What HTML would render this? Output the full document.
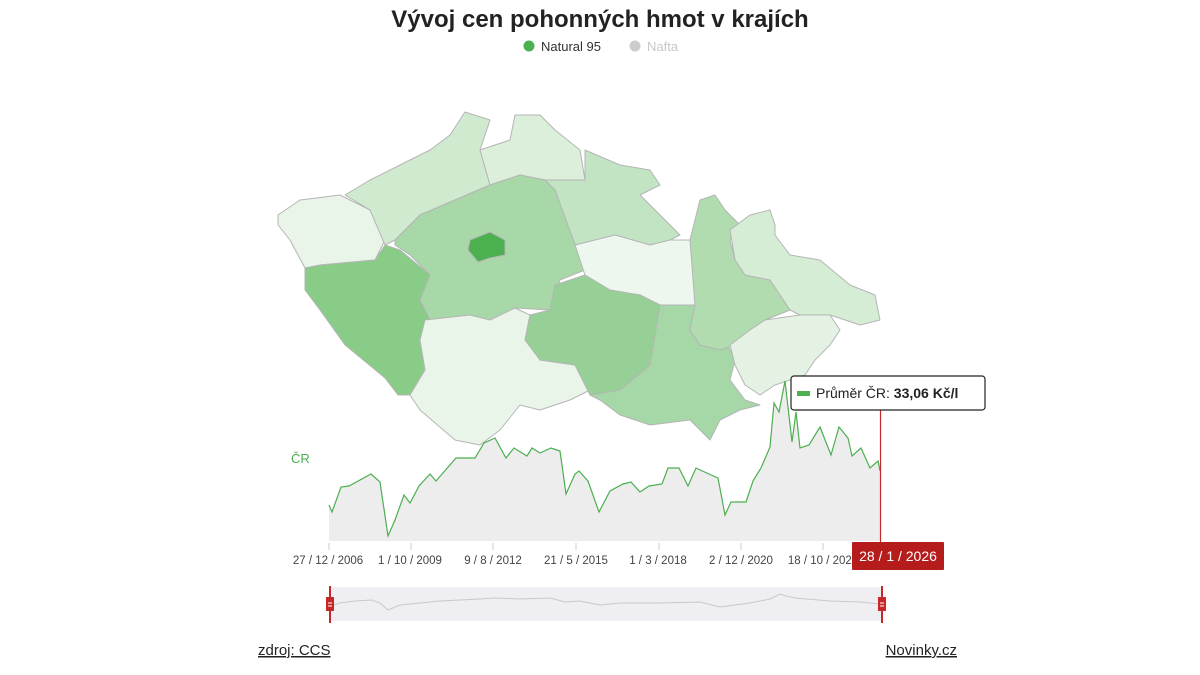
<!DOCTYPE html>
<html><head><meta charset="utf-8"><style>
html,body{margin:0;padding:0;background:#fff;width:1200px;height:675px;overflow:hidden;font-family:"Liberation Sans",sans-serif;}
</style></head><body>
<svg width="1200" height="675" viewBox="0 0 1200 675" xmlns="http://www.w3.org/2000/svg" font-family="Liberation Sans, sans-serif">
<text x="600" y="27" text-anchor="middle" font-size="24" font-weight="bold" fill="#222">Vývoj cen pohonných hmot v krajích</text>
<circle cx="529" cy="46" r="5.5" fill="#4caf50"/>
<text x="541" y="51" font-size="13" fill="#333">Natural 95</text>
<circle cx="635" cy="46" r="5.5" fill="#ccc"/>
<text x="647" y="51" font-size="13" fill="#c8c8c8">Nafta</text>
<g stroke="#b5b5b5" stroke-width="1" stroke-linejoin="round">
<polygon fill="#e9f5e9" points="278,215 300,200 340,195 370,210 385,240 375,260 320,265 305,268 290,240 278,225"/>
<polygon fill="#d0ead0" points="345,195 370,180 400,165 430,150 450,135 465,112 490,120 480,150 490,185 455,200 420,215 395,240 385,245 370,210"/>
<polygon fill="#dbefdb" points="480,150 510,140 515,115 540,115 555,130 580,150 585,180 555,185 545,180 520,175 490,185"/>
<polygon fill="#c2e4c2" points="545,180 585,180 585,150 620,165 650,170 660,185 640,195 660,215 680,235 670,240 650,245 615,235 575,245 555,190"/>
<polygon fill="#a8d8a8" points="395,240 420,215 455,200 490,185 520,175 545,180 555,190 575,245 585,270 560,280 550,310 515,308 490,320 470,315 430,320 420,300 430,275 410,255 395,245"/>
<polygon fill="#4caf50" points="470,240 490,232 505,240 505,255 490,258 478,262 468,250"/>
<polygon fill="#88cc88" points="305,268 320,265 375,260 385,245 400,250 430,275 420,300 430,320 420,340 425,370 410,395 398,395 385,378 345,345 320,310 305,290"/>
<polygon fill="#eaf5ea" points="425,320 470,315 490,320 515,308 530,315 525,340 540,360 575,365 590,390 570,400 540,410 520,405 500,430 480,445 455,440 420,410 410,395 425,370 420,340"/>
<polygon fill="#eef7ee" points="575,245 615,235 650,245 670,240 690,240 695,280 695,305 660,305 640,295 610,290 585,275"/>
<polygon fill="#96d096" points="555,285 585,275 610,290 640,295 660,305 655,340 650,365 620,390 590,395 575,365 540,360 525,340 530,315 550,310"/>
<polygon fill="#a6d7a6" points="590,395 620,390 650,365 660,305 695,305 690,330 700,345 725,340 735,360 730,380 745,400 760,405 740,410 720,420 710,440 690,420 650,425 620,415 600,400"/>
<polygon fill="#b0dcb0" points="700,200 715,195 725,210 740,225 730,240 735,260 745,275 770,280 790,310 765,320 750,330 735,345 720,350 700,345 690,330 695,305 690,240"/>
<polygon fill="#d5ecd5" points="730,230 750,215 770,210 775,225 775,235 790,255 820,260 850,285 875,295 880,320 860,325 830,315 800,315 790,310 770,280 745,275 735,260"/>
<polygon fill="#e3f2e3" points="730,345 750,330 765,320 800,315 830,315 840,330 830,345 815,360 805,375 790,380 775,385 760,395 745,385 735,365"/>
</g>
<text x="291" y="463" font-size="13" fill="#4caf50">ČR</text>
<polygon fill="#ebebeb" fill-opacity="0.9" points="329,541 329,505 332,512 341,487 349,486 371,474 380,482 388,536 395,520 404,495 410,503 419,486 430,474 436,481 456,458 475,458 484,443 495,438 506,458 514,448 527,456 532,448 540,453 551,448 560,451 566,494 575,474 579,471 588,481 599,512 610,491 623,484 631,482 640,492 649,486 662,484 668,468 679,468 688,486 696,468 709,474 718,478 725,515 731,502 746,502 753,481 761,468 770,447 774,403 779,412 785,381 792,442 796,412 800,448 809,445 820,427 831,455 839,427 848,438 852,456 861,448 870,468 878,461 880,471 880,541"/>
<polyline fill="none" stroke="#4caf50" stroke-width="1.2" points="329,505 332,512 341,487 349,486 371,474 380,482 388,536 395,520 404,495 410,503 419,486 430,474 436,481 456,458 475,458 484,443 495,438 506,458 514,448 527,456 532,448 540,453 551,448 560,451 566,494 575,474 579,471 588,481 599,512 610,491 623,484 631,482 640,492 649,486 662,484 668,468 679,468 688,486 696,468 709,474 718,478 725,515 731,502 746,502 753,481 761,468 770,447 774,403 779,412 785,381 792,442 796,412 800,448 809,445 820,427 831,455 839,427 848,438 852,456 861,448 870,468 878,461 880,471"/>
<g stroke="#ccc" stroke-width="1">
<line x1="329" y1="543" x2="329" y2="550"/><line x1="411" y1="543" x2="411" y2="550"/><line x1="493" y1="543" x2="493" y2="550"/><line x1="576" y1="543" x2="576" y2="550"/><line x1="659" y1="543" x2="659" y2="550"/><line x1="741" y1="543" x2="741" y2="550"/><line x1="823" y1="543" x2="823" y2="550"/>
</g>
<g font-size="11.5" fill="#444" text-anchor="middle">
<text x="328" y="564">27 / 12 / 2006</text><text x="410" y="564">1 / 10 / 2009</text><text x="493" y="564">9 / 8 / 2012</text><text x="576" y="564">21 / 5 / 2015</text><text x="658" y="564">1 / 3 / 2018</text><text x="741" y="564">2 / 12 / 2020</text><text x="823" y="564">18 / 10 / 2023</text>
</g>
<line x1="880.5" y1="408" x2="880.5" y2="543" stroke="#c62828" stroke-width="1.2"/>
<rect x="852" y="542" width="92" height="28" fill="#b71c1c" rx="1"/>
<text x="898" y="561" text-anchor="middle" font-size="14" fill="#fff">28 / 1 / 2026</text>
<rect x="791" y="376" width="194" height="34" rx="3" fill="#fff" stroke="#222" stroke-width="1.2"/>
<rect x="797" y="391" width="13" height="5" fill="#4caf50"/>
<text x="816" y="398" font-size="14" fill="#222">Průměr ČR: <tspan font-weight="bold">33,06 Kč/l</tspan></text>
<rect x="330" y="587" width="552" height="34" fill="#eeeef3"/>
<polyline fill="none" stroke="#c8c8cc" stroke-width="1" points="330,606 340,603 355,601 372,600 380,603 388,610 400,605 420,603 440,601 460,600 480,599 495,598 520,599 550,598 565,602 580,601 600,605 620,603 660,603 700,602 720,607 750,603 770,599 780,594 786,596 795,598 830,601 860,602 880,604"/>
<g stroke="#c62828" stroke-width="2"><line x1="330" y1="586" x2="330" y2="623"/><line x1="882" y1="586" x2="882" y2="623"/></g>
<rect x="326" y="597" width="8" height="14" fill="#c62828"/><rect x="878" y="597" width="8" height="14" fill="#c62828"/>
<g stroke="#fff" stroke-width="1"><line x1="328" y1="603" x2="332" y2="603"/><line x1="328" y1="606" x2="332" y2="606"/><line x1="880" y1="603" x2="884" y2="603"/><line x1="880" y1="606" x2="884" y2="606"/></g>
<text x="258" y="655" font-size="15" fill="#222" text-decoration="underline">zdroj: CCS</text>
<text x="957" y="655" font-size="15" fill="#222" text-anchor="end" text-decoration="underline">Novinky.cz</text>
</svg>
</body></html>
